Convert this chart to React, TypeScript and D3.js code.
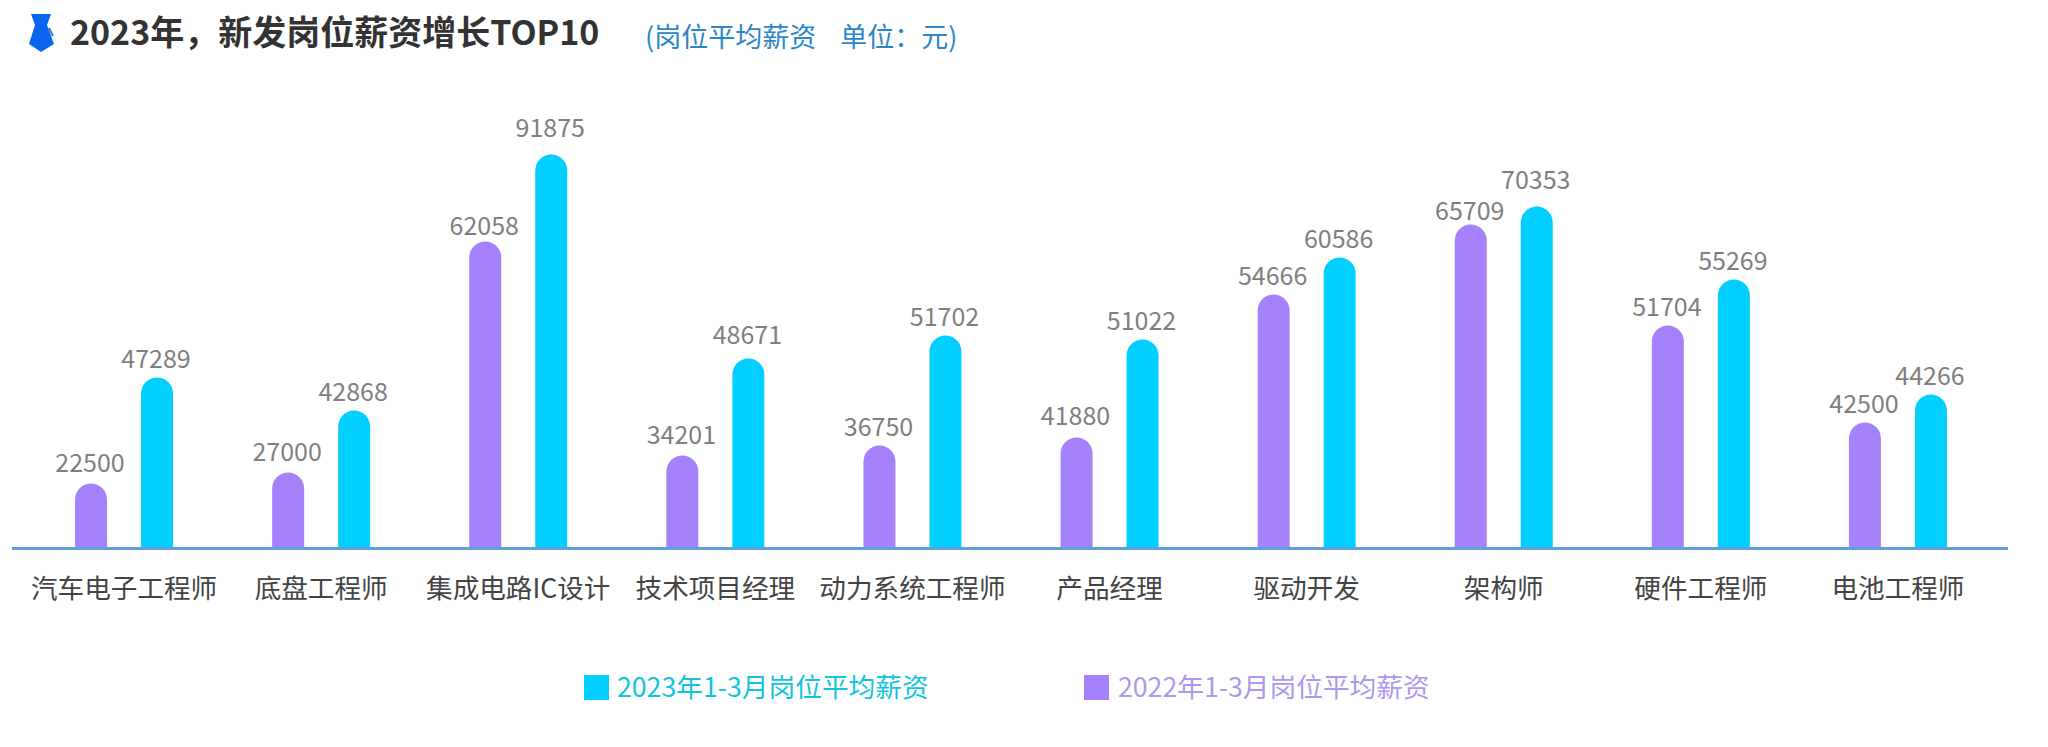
import { useRef, useEffect } from "react";
import * as d3 from "d3";

const CATEGORIES = [
  "汽车电子工程师", "底盘工程师", "集成电路IC设计", "技术项目经理", "动力系统工程师",
  "产品经理", "驱动开发", "架构师", "硬件工程师", "电池工程师",
];
const SALARY_2022 = [22500, 27000, 62058, 34201, 36750, 41880, 54666, 65709, 51704, 42500];
const SALARY_2023 = [47289, 42868, 91875, 48671, 51702, 51022, 60586, 70353, 55269, 44266];

const SERIES = [
  { key: "2022", values: SALARY_2022, color: "#A582FB" },
  { key: "2023", values: SALARY_2023, color: "#00CFFF" },
];
const LEGEND = [
  { label: "2023年1-3月岗位平均薪资", color: "#00CFFF", text: "#10C4E0", x: 584, textX: 617 },
  { label: "2022年1-3月岗位平均薪资", color: "#A582FB", text: "#AE97EC", x: 1084, textX: 1118 },
];

// The source bars are not to a linear scale, so the height scale is piecewise,
// with its knots.
const SCALE_VALUES = [0, 22500, 27000, 34201, 36750, 41880, 42500, 42868, 44266, 47289, 48671, 51022, 51702, 51704, 54666, 55269, 60586, 62058, 65709, 70353, 91875];
const SCALE_HEIGHTS = [0, 65, 76, 93, 103, 111, 126, 138, 154, 171, 190, 209, 213, 223, 254, 269, 291, 307, 324, 342, 394];

// Labels that sit further from (or closer to) their bar than the usual 10px
const LABEL_GAPS: Record<number, number> = {
  91875: 18, 70353: 18, 65709: 5, 62058: 7, 48671: 15,
  41880: 13, 34201: 12, 27000: 12, 22500: 12,
};

const FONT = "'Noto Sans CJK SC', 'Noto Sans', sans-serif";

export default function App() {
  const svgRef = useRef<SVGSVGElement>(null);

  useEffect(() => {
    if (!svgRef.current) return;
    const svg = d3.select(svgRef.current);
    svg.selectAll("*").remove();

    const baseline = 548.5;
    const x0 = d3.scaleBand<string>().domain(CATEGORIES).range([25.5, 1996.5]);
    const x1 = d3.scaleBand<string>()
      .domain(SERIES.map((s) => s.key))
      .range([x0.bandwidth() / 2 - 49, x0.bandwidth() / 2 + 49])
      .paddingInner(34 / 66);
    const h = d3.scaleLinear().domain(SCALE_VALUES).range(SCALE_HEIGHTS);

    const barPath = (x: number, w: number, height: number) => {
      const r = w / 2;
      const p = d3.path();
      p.moveTo(x, baseline);
      p.lineTo(x, baseline - height + r);
      p.arc(x + r, baseline - height + r, r, Math.PI, 0);
      p.lineTo(x + w, baseline);
      p.closePath();
      return p.toString();
    };

    SERIES.forEach((s) => {
      const g = svg.append("g");
      s.values.forEach((v, i) => {
        const left = (x0(CATEGORIES[i]) ?? 0) + (x1(s.key) ?? 0);
        g.append("path")
          .attr("d", barPath(left, x1.bandwidth(), h(v)))
          .attr("fill", s.color);
        g.append("text")
          .attr("x", left + x1.bandwidth() / 2 - 1)
          .attr("y", baseline - h(v) - (LABEL_GAPS[v] ?? 10))
          .attr("text-anchor", "middle")
          .attr("font-family", FONT)
          .attr("font-size", 25)
          .attr("fill", "#7F7F7F")
          .text(v);
      });
    });

    // Category axis
    svg.append("g")
      .attr("transform", `translate(0,${baseline})`)
      .call(d3.axisBottom(x0).tickSize(0).tickPadding(31))
      .call((g) => g.select(".domain")
        .attr("d", "M12,0H2008")
        .attr("stroke", "#5E9FDC")
        .attr("stroke-width", 3))
      .call((g) => g.selectAll(".tick text")
        .attr("font-family", FONT)
        .attr("font-size", 26.6)
        .attr("fill", "#444444"));

    // Tie icon
    svg.append("path")
      .attr("d", "M31,14 H51 L47,25 L54,44 L41,52 L29,44 L35,25 Z")
      .attr("fill", "#0A66F0");
    svg.append("path")
      .attr("d", "M49,28 L53,36")
      .attr("stroke", "#2F7FA8")
      .attr("stroke-width", 2)
      .attr("fill", "none");

    svg.append("text")
      .attr("x", 70)
      .attr("y", 45)
      .attr("font-family", FONT)
      .attr("font-size", 34)
      .attr("font-weight", 700)
      .attr("fill", "#333333")
      .text("2023年，新发岗位薪资增长TOP10");

    svg.append("text")
      .attr("x", 645)
      .attr("y", 47)
      .attr("font-family", FONT)
      .attr("font-size", 27)
      .attr("fill", "#2A86C8")
      .style("white-space", "pre")
      .text("(岗位平均薪资    单位：元)");

    LEGEND.forEach((l) => {
      svg.append("rect")
        .attr("x", l.x)
        .attr("y", 675)
        .attr("width", 25)
        .attr("height", 25)
        .attr("fill", l.color);
      svg.append("text")
        .attr("x", l.textX)
        .attr("y", 697)
        .attr("font-family", FONT)
        .attr("font-size", 26.7)
        .attr("fill", l.text)
        .text(l.label);
    });
  }, []);

  return (
    <svg
      ref={svgRef}
      width={2048}
      height={747}
      style={{ position: "absolute", left: 0, top: 0, background: "#ffffff" }}
    />
  );
}
